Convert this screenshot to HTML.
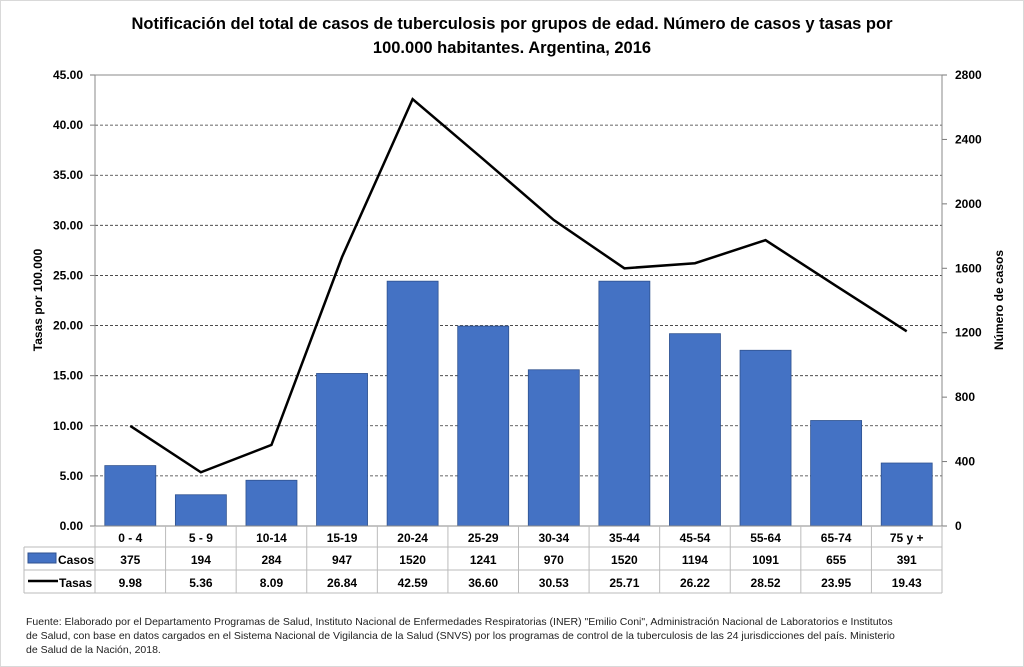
<!DOCTYPE html>
<html><head><meta charset="utf-8"><style>
body{margin:0;background:#fff;}
svg{display:block;font-family:"Liberation Sans",sans-serif;}
</style></head><body>
<svg id="c" width="1024" height="667" viewBox="0 0 1024 667">
<rect x="0.5" y="0.5" width="1023" height="666" fill="#fff" stroke="#d9d9d9"/>
<text x="512" y="29" text-anchor="middle" font-size="16.5" font-weight="bold" fill="#000">Notificación del total de casos de tuberculosis por grupos de edad. Número de casos y tasas por</text>
<text x="512" y="53" text-anchor="middle" font-size="16.5" font-weight="bold" fill="#000">100.000 habitantes.  Argentina, 2016</text>
<text transform="translate(42,300) rotate(-90)" text-anchor="middle" font-size="12" font-weight="bold">Tasas por 100.000</text>
<text transform="translate(1003,300) rotate(-90)" text-anchor="middle" font-size="12" font-weight="bold">Número de casos</text>
<g id="grid"></g><g id="bars"></g><g id="line"></g><g id="axes"></g><g id="table"></g>
<text x="26" y="625" font-size="10.5" fill="#222">Fuente: Elaborado por el Departamento Programas de Salud, Instituto Nacional de Enfermedades Respiratorias (INER) "Emilio Coni", Administración Nacional de Laboratorios e Institutos</text>
<text x="26" y="639" font-size="10.5" fill="#222">de Salud, con base en datos cargados  en el Sistema Nacional de Vigilancia de la Salud (SNVS) por los programas de control de la tuberculosis de las 24  jurisdicciones del país. Ministerio</text>
<text x="26" y="653" font-size="10.5" fill="#222">de Salud de la Nación, 2018.</text>
</svg>
<script>
const categories=["0 - 4","5 - 9","10-14","15-19","20-24","25-29","30-34","35-44","45-54","55-64","65-74","75 y +"];
const casos=[375,194,284,947,1520,1241,970,1520,1194,1091,655,391];
const tasas=[9.98,5.36,8.09,26.84,42.59,36.60,30.53,25.71,26.22,28.52,23.95,19.43];
const leftTicks=[0,5,10,15,20,25,30,35,40,45];
const rightTicks=[0,400,800,1200,1600,2000,2400,2800];
const NS="http://www.w3.org/2000/svg";
const X0=95,X1=942,Y0=526,Y1=75,n=categories.length,bw=(X1-X0)/n;
const yL=v=>Y0-(v/45)*(Y0-Y1), yR=v=>Y0-(v/2800)*(Y0-Y1), xc=i=>X0+bw*(i+0.5);
function mk(p,t,a){const e=document.createElementNS(NS,t);for(const k in a)e.setAttribute(k,a[k]);document.getElementById(p).appendChild(e);return e;}
leftTicks.forEach(v=>{if(v>0&&v<45){const g=mk('grid','line',{x1:X0,x2:X1,y1:yL(v),y2:yL(v),stroke:'#333','stroke-width':0.8,'stroke-dasharray':'3,2'});

}
const t=mk('axes','text',{x:X0-12,y:yL(v)+4,'text-anchor':'end','font-size':12,'font-weight':'bold'});t.textContent=v.toFixed(2);


mk('axes','line',{x1:X0-5,x2:X0,y1:yL(v),y2:yL(v),stroke:'#777'});});
rightTicks.forEach(v=>{const t=mk('axes','text',{x:X1+13,y:yR(v)+4,'font-size':12,'font-weight':'bold'});t.textContent=v;


mk('axes','line',{x1:X1,x2:X1+5,y1:yR(v),y2:yR(v),stroke:'#777'});});
mk('axes','line',{x1:X0,x2:X1,y1:Y1,y2:Y1,stroke:'#888'});
mk('axes','line',{x1:X0,x2:X0,y1:Y1,y2:Y0,stroke:'#888'});
mk('axes','line',{x1:X1,x2:X1,y1:Y1,y2:Y0,stroke:'#888'});
mk('axes','line',{x1:X0,x2:X1,y1:Y0,y2:Y0,stroke:'#888'});
casos.forEach((v,i)=>{const r=mk('bars','rect',{x:xc(i)-25.5,y:yR(v),width:51,height:Y0-yR(v),fill:'#4472c4',stroke:'#2f528f','stroke-width':0.8});

});
const pl=mk('line','polyline',{points:tasas.map((v,i)=>xc(i)+','+yL(v)).join(' '),fill:'none',stroke:'#000','stroke-width':2.5});


// table
const rows=[526,547,570,593],TL=24;
mk('table','line',{x1:X0,x2:X1,y1:547,y2:547,stroke:'#bbb'});
mk('table','line',{x1:TL,x2:X1,y1:547,y2:547,stroke:'#bbb'});
mk('table','line',{x1:TL,x2:X1,y1:570,y2:570,stroke:'#bbb'});
mk('table','line',{x1:TL,x2:X1,y1:593,y2:593,stroke:'#bbb'});
mk('table','line',{x1:TL,x2:TL,y1:547,y2:593,stroke:'#bbb'});
for(let i=0;i<=n;i++)mk('table','line',{x1:X0+bw*i,x2:X0+bw*i,y1:526,y2:593,stroke:'#bbb'});
categories.forEach((c,i)=>{
const a=mk('table','text',{x:xc(i),y:542,'text-anchor':'middle','font-size':12,'font-weight':'bold'});a.textContent=c;


const b=mk('table','text',{x:xc(i),y:564,'text-anchor':'middle','font-size':12,'font-weight':'bold'});b.textContent=casos[i];


const d=mk('table','text',{x:xc(i),y:587,'text-anchor':'middle','font-size':12,'font-weight':'bold'});d.textContent=tasas[i].toFixed(2);

});
const lk=mk('table','rect',{x:28,y:553,width:28,height:10,fill:'#4472c4',stroke:'#2f528f'});


const lc=mk('table','text',{x:58,y:564,'font-size':12,'font-weight':'bold'});lc.textContent='Casos';


const ll=mk('table','line',{x1:28,x2:58,y1:581,y2:581,stroke:'#000','stroke-width':2.5});


const lt=mk('table','text',{x:59,y:587,'font-size':12,'font-weight':'bold'});lt.textContent='Tasas';


</script>
</body></html>
